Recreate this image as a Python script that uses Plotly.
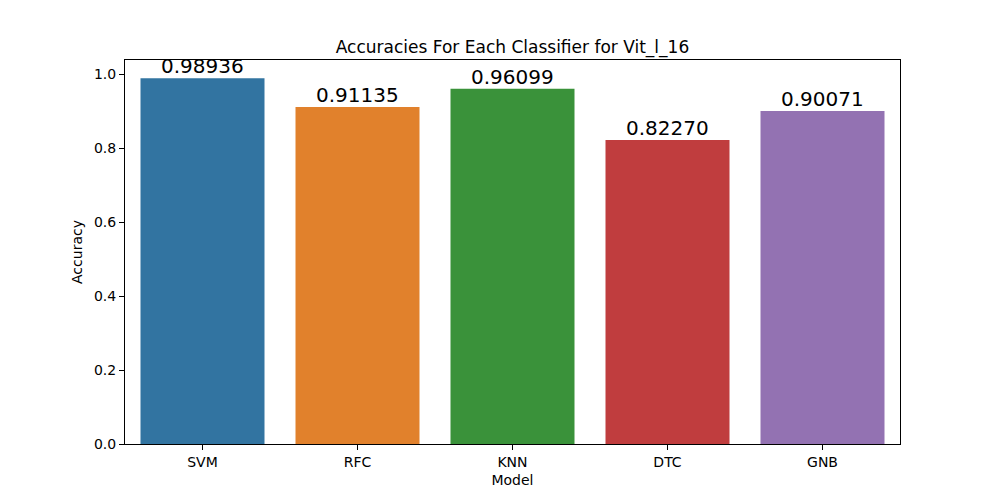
import plotly.graph_objects as go

# classifier accuracies
models = ["SVM", "RFC", "KNN", "DTC", "GNB"]
accuracies = [0.98936, 0.91135, 0.96099, 0.82270, 0.90071]
bar_colors = ["#3274a1", "#e1812c", "#3a923a", "#c03d3e", "#9372b2"]
y_ticks = [0.0, 0.2, 0.4, 0.6, 0.8, 1.0]

font_family = "DejaVu Sans"

fig = go.Figure()
fig.add_trace(go.Bar(
    x=models, y=accuracies, marker=dict(color=bar_colors, line=dict(width=0)),
    width=0.8, hoverinfo="x+y",
))

# value labels sitting just on top of each bar
for m, v in zip(models, accuracies):
    fig.add_annotation(x=m, y=v, text=f"{v:.5f}", showarrow=False, yanchor="bottom",
                       yshift=-2, font=dict(size=20, color="black", family=font_family))

# page body adds an 8px offset, so the figure is a bit smaller than the window
fig.update_layout(
    width=992, height=491,
    margin=dict(l=117, r=100, t=52, b=55),
    paper_bgcolor="white", plot_bgcolor="white",
    font=dict(family=font_family, size=14, color="black"),
    showlegend=False,
    title=dict(text="Accuracies For Each Classifier for Vit_l_16", x=0.5, xanchor="center",
               xref="paper", yref="paper", y=1, yanchor="bottom", pad=dict(b=7),
               font=dict(size=17, color="black")),
)
fig.update_xaxes(title_text="Model", title_standoff=6, title_font=dict(size=14),
                 range=[-0.5, 4.5],
                 showline=True, mirror=True, linecolor="black", linewidth=1,
                 ticks="outside", ticklen=5, tickcolor="black", showgrid=False,
                 tickfont=dict(size=14))
fig.update_yaxes(title_text="Accuracy", title_standoff=8, title_font=dict(size=14),
                 range=[0, 1.0388], tickvals=y_ticks, tickformat=".1f",
                 showline=True, mirror=True, linecolor="black", linewidth=1,
                 ticks="outside", ticklen=5, tickcolor="black", showgrid=False,
                 zeroline=False, tickfont=dict(size=14))

fig.write_html("out.html")
